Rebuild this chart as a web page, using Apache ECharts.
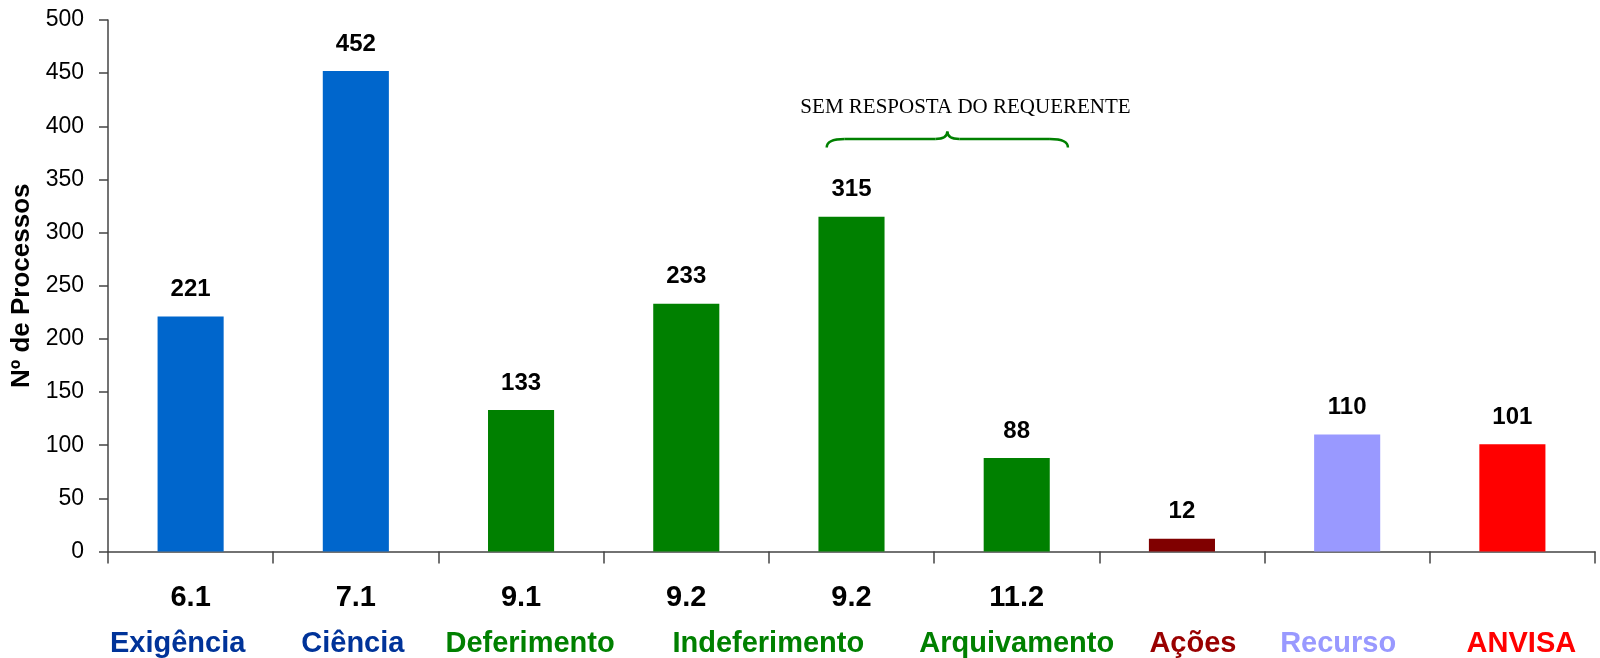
<!DOCTYPE html>
<html>
<head>
<meta charset="utf-8">
<script src="https://cdn.jsdelivr.net/npm/echarts@6/dist/echarts.min.js"></script>
<style>
html,body{margin:0;padding:0;background:#fff;}
#chart{width:1600px;height:658px;}
</style>
</head>
<body>
<div id="chart"></div>
<script>
const codes = ['6.1', '7.1', '9.1', '9.2', '9.2', '11.2', '', '', ''];
const names = ['Exigência', 'Ciência', 'Deferimento', 'Indeferimento', '', 'Arquivamento', 'Ações', 'Recurso', 'ANVISA'];
const values = [221, 452, 133, 233, 315, 88, 12, 110, 101];
const yTicks = [0, 50, 100, 150, 200, 250, 300, 350, 400, 450, 500];
const annotationText = 'SEM RESPOSTA DO REQUERENTE';
const yAxisTitle = 'Nº de Processos';

const barColors = ['#0066CC', '#0066CC', '#008000', '#008000', '#008000', '#008000', '#800000', '#9999FF', '#FF0000'];
const nameColors = ['#003399', '#003399', '#008000', '#008000', '#008000', '#008000', '#990000', '#9999FF', '#FF0000'];
// horizontal shift of each name label relative to its category centre (px)
const nameShift = [-13, -3, 9, 82, 0, 0, 11, -9, 9];

const FONT = 'Liberation Sans, Arial, sans-serif';
const chart = echarts.init(document.getElementById('chart'), null, {renderer: 'canvas'});

const rich = {num: {fontSize: 29, fontWeight: 'bold', color: '#000', lineHeight: 46, fontFamily: FONT}};
nameColors.forEach((c, i) => {
  const d = nameShift[i];
  rich['n' + i] = {
    fontSize: 29, fontWeight: 'bold', color: c, lineHeight: 46, fontFamily: FONT,
    padding: d >= 0 ? [0, 0, 0, 2 * d] : [0, -2 * d, 0, 0]
  };
});

const cats = names.map((n, i) => i);

chart.setOption({
  animation: false,
  grid: {left: 108, right: 5, top: 20, bottom: 106, containLabel: false},
  xAxis: {
    type: 'category',
    data: cats,
    boundaryGap: true,
    axisLine: {lineStyle: {color: '#444', width: 1.5}},
    axisTick: {show: true, length: 12, inside: false, alignWithLabel: false, lineStyle: {color: '#444', width: 1.5}},
    axisLabel: {
      interval: 0,
      margin: 23,
      formatter: function (v) {
        const i = +v;
        return '{num|' + (codes[i] || ' ') + '}\n{n' + i + '|' + (names[i] || ' ') + '}';
      },
      rich: rich
    },
    splitLine: {show: false}
  },
  yAxis: {
    type: 'value',
    min: yTicks[0],
    max: yTicks[yTicks.length - 1],
    interval: yTicks[1] - yTicks[0],
    name: yAxisTitle,
    nameLocation: 'middle',
    nameGap: 69,
    nameRotate: 90,
    nameTextStyle: {fontSize: 26, fontWeight: 'bold', color: '#000', fontFamily: FONT},
    axisLine: {show: true, lineStyle: {color: '#444', width: 1.5}},
    axisTick: {show: true, length: 9, lineStyle: {color: '#444', width: 1.5}},
    axisLabel: {fontSize: 23, color: '#000', margin: 24, fontFamily: FONT},
    splitLine: {show: false}
  },
  series: [{
    type: 'bar',
    barWidth: '40%',
    data: values.map((v, i) => ({value: v, itemStyle: {color: barColors[i]}})),
    label: {
      show: true,
      position: 'top',
      distance: 15,
      fontSize: 24,
      fontWeight: 'bold',
      color: '#000',
      fontFamily: FONT
    }
  }]
});

// Annotation brace over the "no response" group, positioned from axis scales
const c4 = chart.convertToPixel({xAxisIndex: 0}, 4);
const c5 = chart.convertToPixel({xAxisIndex: 0}, 5);
const w = c5 - c4;
const yEnd = chart.convertToPixel({yAxisIndex: 0}, 380);
const yHor = chart.convertToPixel({yAxisIndex: 0}, 388);
const yPeak = chart.convertToPixel({yAxisIndex: 0}, 395);
const yText = chart.convertToPixel({yAxisIndex: 0}, 418);
const xL = c4 - 0.15 * w;
const xR = c5 + 0.31 * w;
const xP = c4 + 0.58 * w;
const xT = c4 + 0.69 * w;
const r = 18;
const braceStyle = {stroke: '#008000', lineWidth: 2.5, fill: null};

chart.setOption({
  graphic: [
    {type: 'bezierCurve', shape: {x1: xL, y1: yEnd, cpx1: xL, cpy1: yHor, x2: xL + r, y2: yHor}, style: braceStyle},
    {type: 'line', shape: {x1: xL + r, y1: yHor, x2: xP - 12, y2: yHor}, style: braceStyle},
    {type: 'bezierCurve', shape: {x1: xP - 12, y1: yHor, cpx1: xP, cpy1: yHor, x2: xP, y2: yPeak}, style: braceStyle},
    {type: 'bezierCurve', shape: {x1: xP, y1: yPeak, cpx1: xP, cpy1: yHor, x2: xP + 12, y2: yHor}, style: braceStyle},
    {type: 'line', shape: {x1: xP + 12, y1: yHor, x2: xR - r, y2: yHor}, style: braceStyle},
    {type: 'bezierCurve', shape: {x1: xR - r, y1: yHor, cpx1: xR, cpy1: yHor, x2: xR, y2: yEnd}, style: braceStyle},
    {
      type: 'text',
      x: xT, y: yText,
      style: {
        text: annotationText,
        fontSize: 21,
        fontFamily: 'Liberation Serif, Times New Roman, serif',
        fill: '#000',
        align: 'center',
        verticalAlign: 'middle'
      }
    }
  ]
});
</script>
</body>
</html>
